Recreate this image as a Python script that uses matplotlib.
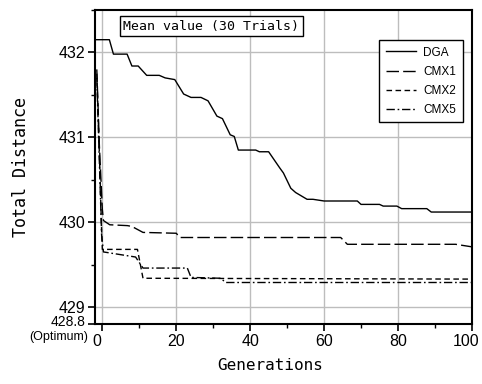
import matplotlib
matplotlib.use('Agg')
import matplotlib.pyplot as plt
import matplotlib.transforms as mtransforms
from matplotlib.ticker import MultipleLocator

# Valores (média de 30 execuções)
dga_gen = [-2, 1.9, 3, 6.7, 8, 9.7, 12, 15.4, 17, 19.6, 22, 24, 26.7, 28.6, 31, 32.5,
           34.6, 35.7, 36.8, 41.5, 42.5, 45, 48, 49, 51, 52.3, 55.4, 57, 60, 69, 70,
           75, 76, 79.7, 81, 87.8, 89, 100]
dga_val = [432.15, 432.15, 431.98, 431.98, 431.84, 431.84, 431.73, 431.73, 431.70,
           431.68, 431.51, 431.47, 431.47, 431.43, 431.25, 431.22, 431.03, 431.01,
           430.85, 430.85, 430.83, 430.83, 430.64, 430.58, 430.40, 430.35, 430.27,
           430.27, 430.25, 430.25, 430.21, 430.21, 430.19, 430.19, 430.16, 430.16,
           430.12, 430.12]

cmx1_gen = [-1.5, -0.8, 0, 0.3, 2, 6.8, 8, 11, 20, 21, 64.5, 66.3, 95.6, 100]
cmx1_val = [431.8, 430.9, 430.15, 430.02, 429.97, 429.96, 429.95, 429.88, 429.87,
            429.82, 429.82, 429.74, 429.74, 429.71]

cmx2_gen = [-1.5, -0.8, -0.2, 0, 9.5, 11, 100]
cmx2_val = [431.75, 430.8, 429.9, 429.68, 429.68, 429.34, 429.33]

cmx5_gen = [-1.5, -0.8, -0.2, 0.3, 9, 11, 23, 24, 32, 33.4, 100]
cmx5_val = [431.7, 430.7, 429.85, 429.65, 429.59, 429.46, 429.46, 429.35, 429.34,
            429.29, 429.29]

y_ticks = [428.8, 429, 430, 431, 432]
y_labels = ['428.8', '429', '430', '431', '432']
x_ticks = [0, 20, 40, 60, 80, 100]

SANS = ['Liberation Sans', 'DejaVu Sans']
MONO = ['DejaVu Sans Mono']

fig = plt.figure(figsize=(4.82, 3.84), dpi=100)
ax = fig.add_axes([0.197, 0.156, 0.782, 0.818])

ax.plot(dga_gen, dga_val, color='black', lw=1.0, ls='-', label='DGA')
ax.plot(cmx1_gen, cmx1_val, color='black', lw=1.0, ls=(0, (9, 3)), label='CMX1')
ax.plot(cmx2_gen, cmx2_val, color='black', lw=1.0, ls=(0, (4, 2.5)), label='CMX2')
ax.plot(cmx5_gen, cmx5_val, color='black', lw=1.0, ls=(0, (6, 2, 1.2, 2)), label='CMX5')

ax.set_xlim(-2, 100)
ax.set_ylim(428.8, 432.5)
ax.set_xticks(x_ticks)
ax.set_yticks(y_ticks)
ax.set_yticklabels(y_labels)
ax.xaxis.set_minor_locator(MultipleLocator(10))
ax.set_yticks([429.5, 430.5, 431.5, 432.5], minor=True)

ax.grid(True, which='major', color='#bdbdbd', lw=1.0)
ax.set_axisbelow(True)
for s in ax.spines.values():
    s.set_linewidth(1.5)
    s.set_color('black')

ax.tick_params(which='major', direction='out', length=5, width=1.2, pad=2)
ax.tick_params(which='minor', direction='out', length=3, width=1.0)
for lab in ax.get_xticklabels() + ax.get_yticklabels():
    lab.set_family(SANS)
    lab.set_fontsize(11.5)


def nudge(lab, dx, dy):
    lab.set_transform(lab.get_transform() +
                      mtransforms.ScaledTranslation(dx / 72, dy / 72, fig.dpi_scale_trans))


opt = ax.get_yticklabels()[0]
opt.set_fontsize(10)
nudge(opt, 0, 2.5)
nudge(ax.get_xticklabels()[0], -4, 0)
# o "100" fica colado na borda direita
nudge(ax.get_xticklabels()[-1], -4, 0)

# "(Optimum)" abaixo do 428.8
ax.annotate('(Optimum)', xy=(0, 428.8), xycoords=ax.get_yaxis_transform(),
            xytext=(-5, -5), textcoords='offset points', ha='right', va='top',
            family=SANS, fontsize=9, annotation_clip=False)

ax.set_ylabel('Total Distance', family=MONO, fontsize=12)
ax.set_xlabel('Generations', family=MONO, fontsize=11.5)
ax.yaxis.set_label_coords(-0.172, 0.5)
ax.xaxis.set_label_coords(0.466, -0.108)

ax.text(0.309, 0.949, 'Mean value (30 Trials)', transform=ax.transAxes,
        ha='center', va='center', family=MONO, fontsize=9.5,
        bbox=dict(boxstyle='square,pad=0.25', fc='white', ec='black', lw=1.0))

leg = ax.legend(loc='upper right', bbox_to_anchor=(0.976, 0.904), borderaxespad=0,
                fancybox=False, framealpha=1, edgecolor='black', handlelength=2.6,
                handletextpad=0.6, labelspacing=0.6, borderpad=0.55,
                prop={'family': SANS, 'size': 8.5})
leg.get_frame().set_linewidth(1.0)

plt.savefig('out.png', dpi=100)
plt.close()
